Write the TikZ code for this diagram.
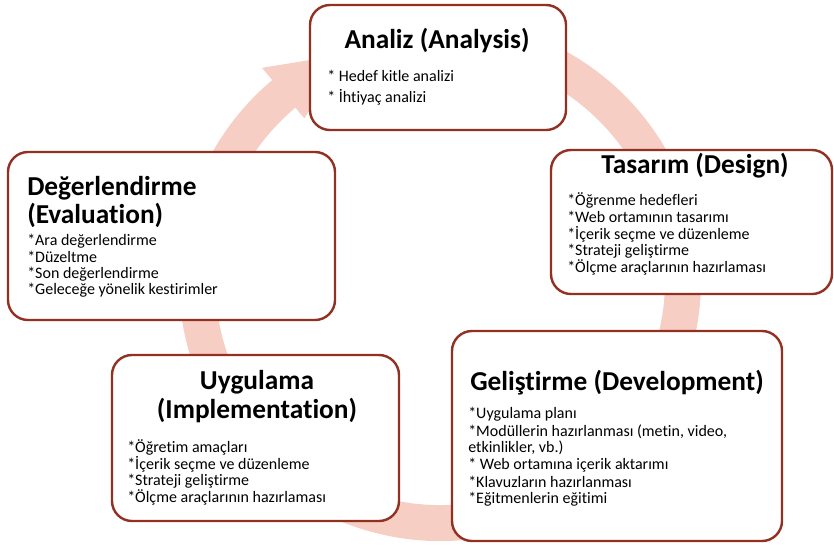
\documentclass[tikz,border=0pt]{standalone}
\usepackage{fontspec}
\setmainfont{Carlito}[Ligatures=NoCommon]
\usetikzlibrary{calc,fit}
\definecolor{bordercol}{RGB}{146,48,34}
\definecolor{ringcol}{RGB}{247,206,195}
\begin{document}
\begin{tikzpicture}[x=0.75pt,y=-0.75pt,
  box/.style={draw=bordercol, line width=1.8pt, fill=white, rounded corners=15pt, inner sep=0pt},
  ttl/.style={inner sep=0pt, anchor=base, font=\fontsize{20.5}{24}\selectfont\bfseries},
  ttlw/.style={ttl, anchor=base west},
  itm/.style={inner sep=0pt, anchor=base west, font=\fontsize{12}{14}\selectfont},
]
\useasboundingbox (0,0) rectangle (834,544);
% ring
\coordinate (c) at (440,280);
\coordinate (ringstart) at ($(c)+(-75:243)$);
\draw[ringcol, line width=27pt] (ringstart) arc[start angle=-75, end angle=231, radius=243];
\coordinate (h1) at ($(c)+(230:211)$);
\coordinate (h2) at ($(c)+(230:277)$);
\coordinate (h3) at ($(c)+(247:245)$);
\fill[ringcol] (h1) -- (h2) -- (h3) -- cycle;
% boxes
\node[box, fit={(310,5) (566,130)}] (ana) {};
\node[box, fit={(551,150) (832,294)}] (tas) {};
\node[box, fit={(8,152) (335,320)}] (deg) {};
\node[box, fit={(112,355) (399,521)}] (uyg) {};
\node[box, fit={(452,331) (782,541)}] (gel) {};
% Analiz
\node[ttl] (anat) at (437,48) {Analiz (Analysis)};
\node[itm] (ana1) at (327,81) {* Hedef kitle analizi};
\node[itm] (ana2) at (327,102) {* İhtiyaç analizi};
% Tasarim
\node[ttl] (tast) at (695,173) {Tasarım (Design)};
\node[itm] (tas1) at (567,205) {*Öğrenme hedefleri};
\node[itm] (tas2) at (567,222) {*Web ortamının tasarımı};
\node[itm] (tas3) at (567,239) {*İçerik seçme ve düzenleme};
\node[itm] (tas4) at (567,255) {*Strateji geliştirme};
\node[itm] (tas5) at (567,272) {*Ölçme araçlarının hazırlaması};
% Degerlendirme
\node[ttlw] (degt1) at (27,195) {Değerlendirme};
\node[ttlw] (degt2) at (27,223) {(Evaluation)};
\node[itm] (deg1) at (27,245) {*Ara değerlendirme};
\node[itm] (deg2) at (27,262) {*Düzeltme};
\node[itm] (deg3) at (27,278) {*Son değerlendirme};
\node[itm] (deg4) at (27,294) {*Geleceğe yönelik kestirimler};
% Uygulama
\node[ttl] (uygt1) at (257,389) {Uygulama};
\node[ttl] (uygt2) at (257,418) {(Implementation)};
\node[itm] (uyg1) at (127,452) {*Öğretim amaçları};
\node[itm] (uyg2) at (127,469) {*İçerik seçme ve düzenleme};
\node[itm] (uyg3) at (127,485) {*Strateji geliştirme};
\node[itm] (uyg4) at (127,502) {*Ölçme araçlarının hazırlaması};
% Gelistirme
\node[ttlw] (gelt) at (470,390) {Geliştirme (Development)};
\node[itm] (gel1) at (468,418) {*Uygulama planı};
\node[itm] (gel2) at (468,436) {*Modüllerin hazırlanması (metin, video,};
\node[itm] (gel3) at (468,452) {etkinlikler, vb.)};
\node[itm] (gel4) at (468,469) {* Web ortamına içerik aktarımı};
\node[itm] (gel5) at (468,487) {*Klavuzların hazırlanması};
\node[itm] (gel6) at (468,503) {*Eğitmenlerin eğitimi};
\end{tikzpicture}
\end{document}
